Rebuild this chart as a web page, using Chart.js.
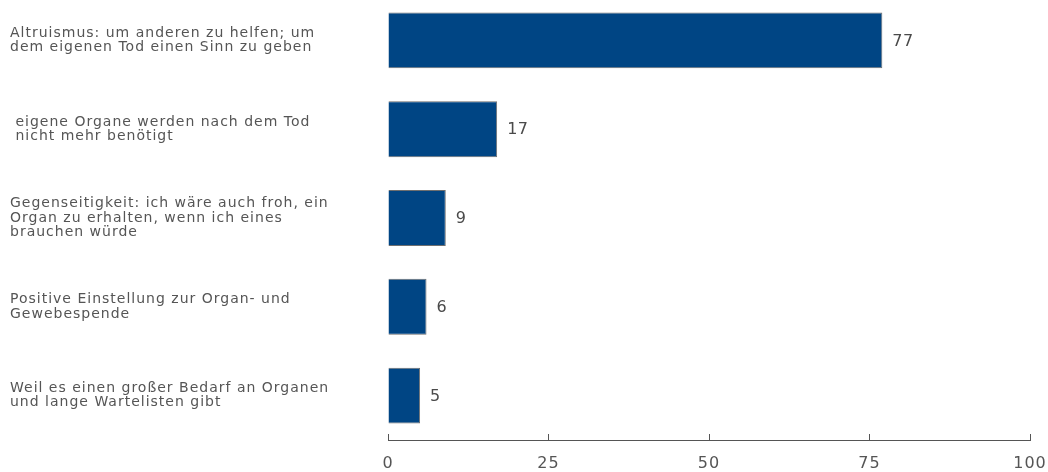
<!DOCTYPE html>
<html>
<head>
<meta charset="utf-8">
<script src="https://cdn.jsdelivr.net/npm/chart.js@4"></script>
<style>
  body { margin: 0; background: #fff; overflow: hidden; }
  #wrap { width: 1048px; height: 476px; margin-top: -4px; }
</style>
</head>
<body>
<div id="wrap"><canvas id="chart"></canvas></div>
<script>
var categories = [
    ['Altruismus: um anderen zu helfen; um', 'dem eigenen Tod einen Sinn zu geben'],
    [' eigene Organe werden nach dem Tod', ' nicht mehr benötigt'],
    ['Gegenseitigkeit: ich wäre auch froh, ein', 'Organ zu erhalten, wenn ich eines', 'brauchen würde'],
    ['Positive Einstellung zur Organ- und', 'Gewebespende'],
    ['Weil es einen großer Bedarf an Organen', 'und lange Wartelisten gibt']
];
var values = [77, 17, 9, 6, 5];
var xTicks = [0, 25, 50, 75, 100];

var fontFamily = '"DejaVu Sans", Verdana, sans-serif';

// the original text is a bit wider than DejaVu, so open the letters up a little
var wideText = {
    id: 'wideText',
    beforeLayout: function (chart) { chart.ctx.letterSpacing = '1px'; },
    beforeDraw: function (chart) { chart.ctx.letterSpacing = '1px'; }
};

// draws the value next to the end of each bar
var valueLabels = {
    id: 'valueLabels',
    afterDatasetsDraw: function (chart) {
        var ctx = chart.ctx;
        var meta = chart.getDatasetMeta(0);
        ctx.save();
        ctx.font = '16px ' + fontFamily;
        ctx.letterSpacing = '0.5px';
        ctx.fillStyle = '#4a4a4a';
        ctx.textAlign = 'left';
        ctx.textBaseline = 'middle';
        meta.data.forEach(function (bar, i) {
            ctx.fillText(values[i], bar.x + 10, bar.y + 1);
        });
        ctx.restore();
    }
};

var config = {
    type: 'bar',
    data: {
        labels: categories,
        datasets: [{
            data: values,
            backgroundColor: '#004584',
            borderColor: '#6f6f6f',
            borderWidth: 1,
            categoryPercentage: 1,
            barPercentage: 0.63
        }]
    },
    options: {
        indexAxis: 'y',
        responsive: true,
        maintainAspectRatio: false,
        animation: false,
        layout: { padding: { left: 10, right: 18, top: 0, bottom: 0 } },
        plugins: {
            legend: { display: false },
            tooltip: { enabled: false }
        },
        scales: {
            x: {
                min: 0,
                max: 100,
                afterBuildTicks: function (scale) {
                    scale.ticks = xTicks.map(function (v) { return { value: v }; });
                },
                afterFit: function (scale) {
                    scale.height = 32;
                    scale.paddingLeft = 0;
                    scale.paddingRight = 0;
                },
                grid: { drawOnChartArea: false, color: '#555', tickLength: -6 },
                border: { color: '#555', width: 1 },
                ticks: {
                    color: '#555',
                    padding: 20,
                    maxRotation: 0,
                    font: { family: fontFamily, size: 16 }
                }
            },
            y: {
                grid: { display: false, drawTicks: false },
                border: { display: false },
                afterFit: function (scale) {
                    scale.width = 378;
                    scale.paddingTop = 0;
                    scale.paddingBottom = 0;
                },
                ticks: {
                    crossAlign: 'far',
                    color: '#555',
                    font: { family: fontFamily, size: 14, lineHeight: 1.02 }
                }
            }
        }
    },
    plugins: [wideText, valueLabels]
};

new Chart(document.getElementById('chart').getContext('2d'), config);
</script>
</body>
</html>
